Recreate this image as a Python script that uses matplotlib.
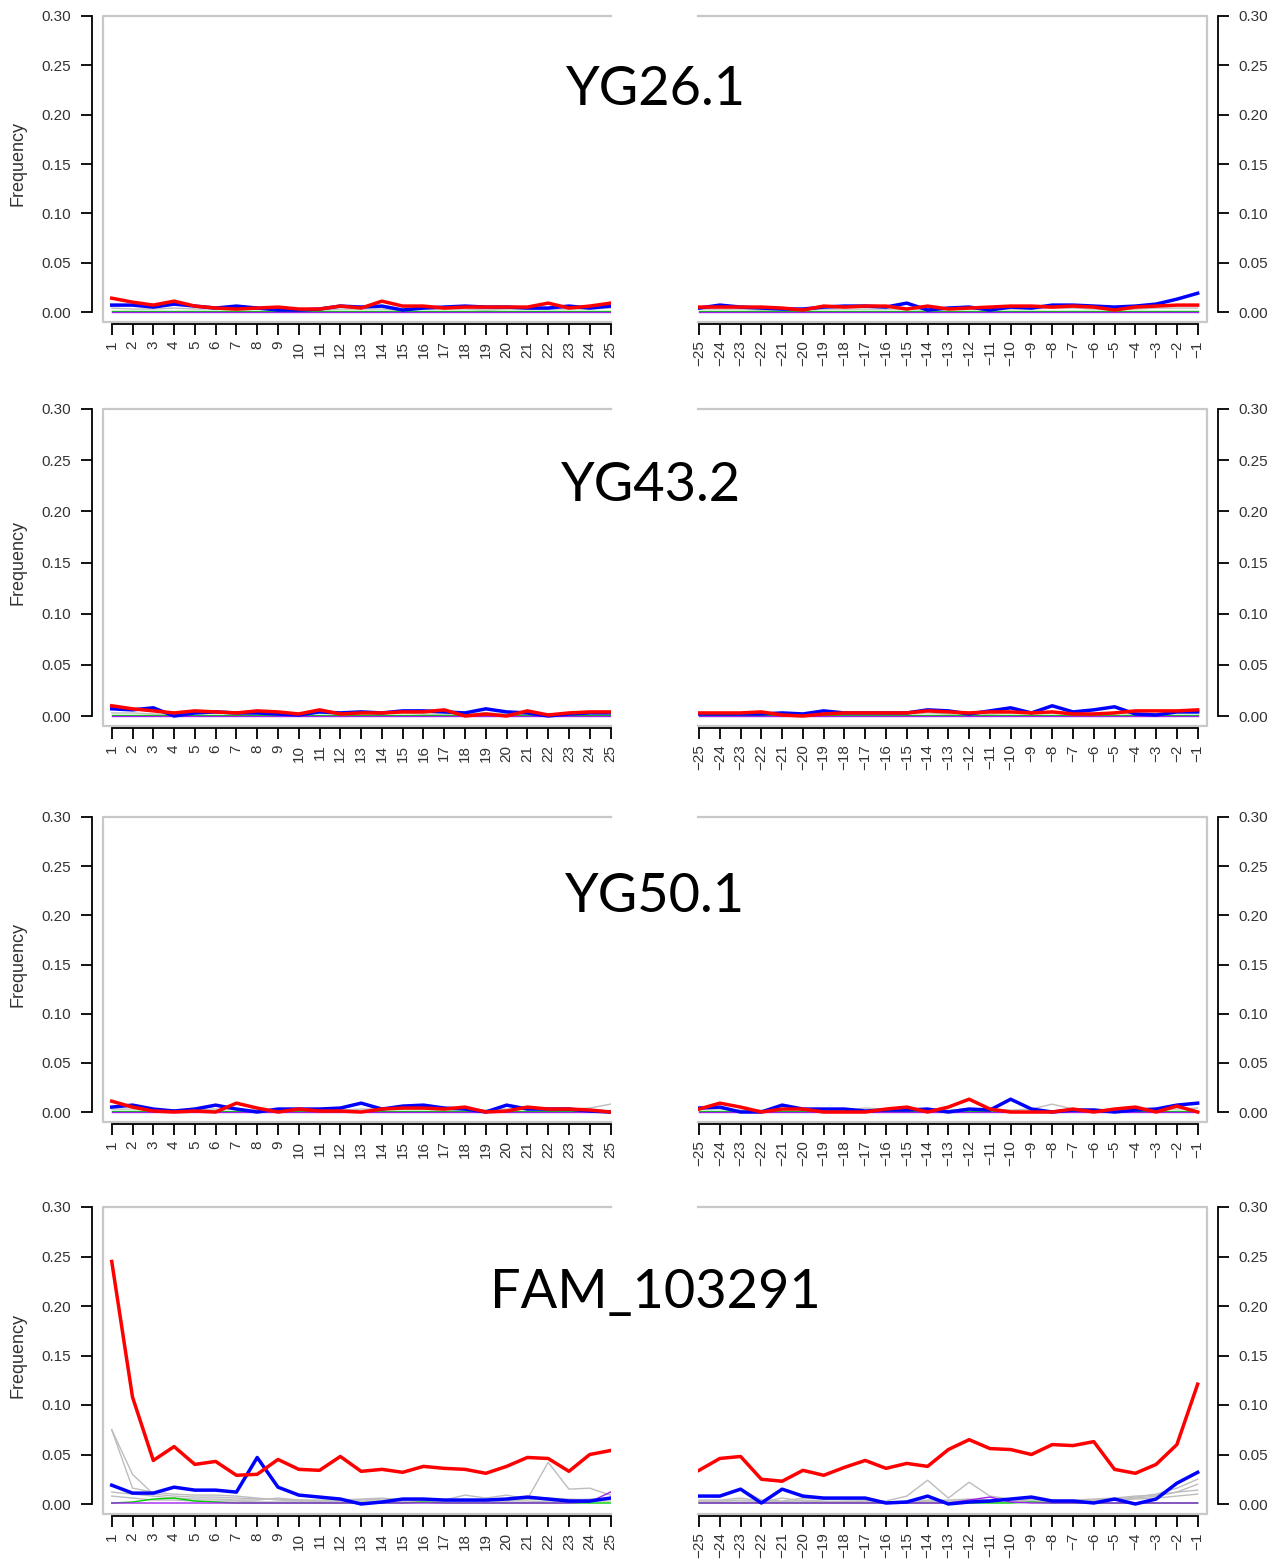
import matplotlib
matplotlib.use("Agg")
import matplotlib.pyplot as plt

# positions along the read, from the 5' end and from the 3' end
pos_left = list(range(1, 26))
pos_right = list(range(-25, 0))
tick_vals = [0.00, 0.05, 0.10, 0.15, 0.20, 0.25, 0.30]

names = ["YG26.1", "YG43.2", "YG50.1", "FAM_103291"]

# ---- YG26.1
yg26_l_red = [0.014, 0.010, 0.007, 0.011, 0.006, 0.004, 0.003, 0.004, 0.005, 0.003, 0.003, 0.006, 0.004,
              0.011, 0.006, 0.006, 0.004, 0.005, 0.005, 0.005, 0.005, 0.009, 0.004, 0.006, 0.009]
yg26_l_blue = [0.007, 0.007, 0.005, 0.008, 0.006, 0.004, 0.006, 0.004, 0.002, 0.002, 0.003, 0.006, 0.005,
               0.006, 0.002, 0.004, 0.005, 0.006, 0.005, 0.005, 0.004, 0.004, 0.006, 0.004, 0.006]
yg26_l_gray = [0.004, 0.003, 0.003, 0.004, 0.003, 0.003, 0.002, 0.003, 0.003, 0.002, 0.002, 0.003, 0.003,
               0.003, 0.002, 0.003, 0.003, 0.003, 0.002, 0.003, 0.003, 0.003, 0.003, 0.003, 0.004]
yg26_r_red = [0.005, 0.005, 0.005, 0.005, 0.004, 0.002, 0.006, 0.005, 0.006, 0.006, 0.003, 0.006, 0.003,
              0.004, 0.005, 0.006, 0.006, 0.005, 0.006, 0.005, 0.002, 0.005, 0.006, 0.007, 0.007]
yg26_r_blue = [0.004, 0.007, 0.005, 0.004, 0.003, 0.003, 0.005, 0.006, 0.006, 0.005, 0.009, 0.002, 0.004,
               0.005, 0.002, 0.005, 0.004, 0.007, 0.007, 0.006, 0.005, 0.006, 0.008, 0.013, 0.019]
yg26_r_gray = [0.003, 0.003, 0.003, 0.002, 0.002, 0.002, 0.003, 0.003, 0.003, 0.003, 0.003, 0.002, 0.003,
               0.003, 0.003, 0.003, 0.003, 0.004, 0.004, 0.003, 0.003, 0.003, 0.004, 0.004, 0.004]

# ---- YG43.2
yg43_l_red = [0.010, 0.007, 0.005, 0.003, 0.005, 0.004, 0.003, 0.005, 0.004, 0.002, 0.006, 0.002, 0.003,
              0.003, 0.004, 0.004, 0.006, 0.000, 0.002, 0.000, 0.005, 0.001, 0.003, 0.004, 0.004]
yg43_l_blue = [0.007, 0.006, 0.008, 0.000, 0.003, 0.004, 0.003, 0.003, 0.002, 0.001, 0.004, 0.003, 0.004,
               0.003, 0.005, 0.005, 0.004, 0.003, 0.007, 0.004, 0.003, 0.000, 0.002, 0.003, 0.003]
yg43_l_gray = [0.003, 0.003, 0.002, 0.002, 0.002, 0.003, 0.002, 0.002, 0.002, 0.002, 0.003, 0.002, 0.002,
               0.002, 0.003, 0.002, 0.002, 0.002, 0.003, 0.002, 0.002, 0.002, 0.002, 0.003, 0.003]
yg43_r_red = [0.003, 0.003, 0.003, 0.004, 0.001, 0.000, 0.002, 0.003, 0.003, 0.003, 0.003, 0.005, 0.004,
              0.003, 0.004, 0.004, 0.003, 0.004, 0.002, 0.002, 0.003, 0.005, 0.005, 0.005, 0.006]
yg43_r_blue = [0.002, 0.002, 0.002, 0.002, 0.003, 0.002, 0.005, 0.003, 0.003, 0.003, 0.003, 0.006, 0.005,
               0.002, 0.005, 0.008, 0.003, 0.010, 0.004, 0.006, 0.009, 0.002, 0.001, 0.004, 0.004]
yg43_r_gray = [0.002, 0.002, 0.002, 0.002, 0.002, 0.002, 0.002, 0.002, 0.003, 0.002, 0.002, 0.003, 0.002,
               0.002, 0.002, 0.003, 0.002, 0.003, 0.002, 0.002, 0.003, 0.002, 0.002, 0.003, 0.003]

# ---- YG50.1
yg50_l_red = [0.011, 0.005, 0.001, 0.000, 0.001, 0.000, 0.009, 0.004, 0.000, 0.003, 0.001, 0.001, 0.000,
              0.003, 0.004, 0.004, 0.003, 0.005, 0.000, 0.001, 0.005, 0.003, 0.003, 0.002, 0.000]
yg50_l_blue = [0.005, 0.007, 0.003, 0.001, 0.003, 0.007, 0.003, 0.000, 0.003, 0.003, 0.003, 0.004, 0.009,
               0.003, 0.006, 0.007, 0.004, 0.003, 0.000, 0.007, 0.003, 0.003, 0.003, 0.001, 0.000]
yg50_l_gray = [0.003, 0.003, 0.002, 0.002, 0.002, 0.003, 0.003, 0.002, 0.002, 0.003, 0.002, 0.002, 0.003,
               0.003, 0.003, 0.003, 0.002, 0.003, 0.002, 0.003, 0.003, 0.002, 0.003, 0.004, 0.008]
yg50_r_red = [0.003, 0.009, 0.005, 0.000, 0.003, 0.003, 0.000, 0.000, 0.000, 0.003, 0.005, 0.000, 0.005,
              0.013, 0.003, 0.000, 0.000, 0.000, 0.003, 0.000, 0.003, 0.005, 0.000, 0.006, 0.000]
yg50_r_blue = [0.004, 0.005, 0.000, 0.000, 0.007, 0.003, 0.003, 0.003, 0.001, 0.002, 0.002, 0.003, 0.000,
               0.003, 0.002, 0.013, 0.003, 0.000, 0.002, 0.002, 0.000, 0.002, 0.003, 0.007, 0.009]
yg50_r_gray = [0.003, 0.003, 0.002, 0.002, 0.003, 0.003, 0.003, 0.002, 0.004, 0.003, 0.003, 0.003, 0.002,
               0.003, 0.003, 0.002, 0.003, 0.008, 0.003, 0.003, 0.002, 0.003, 0.003, 0.003, 0.004]

# ---- FAM_103291
fam_l_red = [0.245, 0.108, 0.044, 0.058, 0.040, 0.043, 0.029, 0.030, 0.045, 0.035, 0.034, 0.048, 0.033,
             0.035, 0.032, 0.038, 0.036, 0.035, 0.031, 0.038, 0.047, 0.046, 0.033, 0.050, 0.054]
fam_l_blue = [0.019, 0.011, 0.011, 0.017, 0.014, 0.014, 0.012, 0.047, 0.017, 0.009, 0.007, 0.005, 0.000,
              0.002, 0.005, 0.005, 0.004, 0.004, 0.004, 0.005, 0.007, 0.005, 0.003, 0.003, 0.006]
fam_l_gray1 = [0.075, 0.030, 0.010, 0.008, 0.007, 0.007, 0.006, 0.005, 0.005, 0.004, 0.004, 0.004, 0.004,
               0.005, 0.005, 0.004, 0.004, 0.003, 0.004, 0.004, 0.004, 0.005, 0.004, 0.005, 0.006]
fam_l_gray2 = [0.075, 0.016, 0.012, 0.010, 0.009, 0.009, 0.008, 0.006, 0.004, 0.003, 0.003, 0.004, 0.005,
               0.006, 0.004, 0.004, 0.004, 0.009, 0.006, 0.009, 0.005, 0.006, 0.005, 0.004, 0.005]
fam_l_gray3 = [0.012, 0.010, 0.008, 0.006, 0.005, 0.005, 0.004, 0.004, 0.006, 0.004, 0.003, 0.003, 0.003,
               0.003, 0.003, 0.003, 0.003, 0.003, 0.003, 0.003, 0.005, 0.042, 0.015, 0.016, 0.009]
fam_l_gray4 = [0.008, 0.006, 0.004, 0.004, 0.003, 0.003, 0.003, 0.002, 0.002, 0.002, 0.002, 0.002, 0.002,
               0.002, 0.002, 0.002, 0.002, 0.002, 0.002, 0.002, 0.002, 0.003, 0.002, 0.003, 0.003]
fam_l_green = [0.001, 0.002, 0.005, 0.006, 0.003, 0.002, 0.001, 0.001, 0.001, 0.001, 0.001, 0.001, 0.001,
               0.001, 0.001, 0.002, 0.001, 0.001, 0.001, 0.001, 0.001, 0.001, 0.001, 0.001, 0.001]
fam_l_purple = [0.001, 0.001, 0.001, 0.001, 0.001, 0.001, 0.001, 0.001, 0.001, 0.001, 0.001, 0.001, 0.001,
                0.001, 0.001, 0.001, 0.001, 0.001, 0.001, 0.001, 0.001, 0.001, 0.001, 0.002, 0.012]
fam_r_red = [0.034, 0.046, 0.048, 0.025, 0.023, 0.034, 0.029, 0.037, 0.044, 0.036, 0.041, 0.038, 0.055,
             0.065, 0.056, 0.055, 0.050, 0.060, 0.059, 0.063, 0.035, 0.031, 0.040, 0.060, 0.121]
fam_r_blue = [0.008, 0.008, 0.015, 0.001, 0.015, 0.008, 0.006, 0.006, 0.006, 0.001, 0.002, 0.008, 0.000,
              0.002, 0.003, 0.005, 0.007, 0.003, 0.003, 0.001, 0.005, 0.000, 0.005, 0.021, 0.032]
fam_r_gray1 = [0.008, 0.007, 0.015, 0.004, 0.003, 0.006, 0.005, 0.004, 0.004, 0.003, 0.008, 0.024, 0.006,
               0.022, 0.008, 0.005, 0.005, 0.004, 0.004, 0.005, 0.006, 0.008, 0.009, 0.012, 0.014]
fam_r_gray2 = [0.004, 0.004, 0.006, 0.003, 0.002, 0.004, 0.003, 0.002, 0.003, 0.002, 0.003, 0.004, 0.004,
               0.005, 0.004, 0.003, 0.004, 0.004, 0.003, 0.004, 0.005, 0.007, 0.010, 0.016, 0.025]
fam_r_gray3 = [0.003, 0.003, 0.004, 0.002, 0.006, 0.003, 0.002, 0.002, 0.002, 0.002, 0.002, 0.003, 0.003,
               0.003, 0.002, 0.003, 0.003, 0.003, 0.004, 0.003, 0.004, 0.006, 0.008, 0.012, 0.020]
fam_r_gray4 = [0.002, 0.002, 0.002, 0.002, 0.002, 0.002, 0.002, 0.002, 0.002, 0.002, 0.002, 0.002, 0.002,
               0.002, 0.002, 0.002, 0.002, 0.003, 0.002, 0.003, 0.004, 0.005, 0.006, 0.008, 0.010]
fam_r_green = [0.001, 0.001, 0.001, 0.001, 0.001, 0.001, 0.001, 0.001, 0.001, 0.001, 0.001, 0.001, 0.001,
               0.001, 0.001, 0.001, 0.002, 0.001, 0.001, 0.001, 0.001, 0.001, 0.001, 0.001, 0.001]
fam_r_purple = [0.001, 0.001, 0.001, 0.001, 0.001, 0.001, 0.001, 0.001, 0.001, 0.001, 0.001, 0.001, 0.001,
                0.004, 0.007, 0.002, 0.001, 0.001, 0.001, 0.001, 0.001, 0.001, 0.001, 0.001, 0.001]

low_green = [0.001, 0.001, 0.001, 0.001, 0.001, 0.001, 0.001, 0.001, 0.001, 0.001, 0.001, 0.001, 0.001,
             0.001, 0.001, 0.001, 0.001, 0.001, 0.001, 0.001, 0.001, 0.001, 0.001, 0.001, 0.001]
zero_purple = [0.000, 0.000, 0.000, 0.000, 0.000, 0.000, 0.000, 0.000, 0.000, 0.000, 0.000, 0.000, 0.000,
               0.000, 0.000, 0.000, 0.000, 0.000, 0.000, 0.000, 0.000, 0.000, 0.000, 0.000, 0.000]

rows = [
    dict(l_red=yg26_l_red, l_blue=yg26_l_blue, l_gray=[yg26_l_gray], l_green=low_green, l_purple=zero_purple,
         r_red=yg26_r_red, r_blue=yg26_r_blue, r_gray=[yg26_r_gray], r_green=low_green, r_purple=zero_purple),
    dict(l_red=yg43_l_red, l_blue=yg43_l_blue, l_gray=[yg43_l_gray], l_green=low_green, l_purple=zero_purple,
         r_red=yg43_r_red, r_blue=yg43_r_blue, r_gray=[yg43_r_gray], r_green=low_green, r_purple=zero_purple),
    dict(l_red=yg50_l_red, l_blue=yg50_l_blue, l_gray=[yg50_l_gray], l_green=low_green, l_purple=zero_purple,
         r_red=yg50_r_red, r_blue=yg50_r_blue, r_gray=[yg50_r_gray], r_green=low_green, r_purple=zero_purple),
    dict(l_red=fam_l_red, l_blue=fam_l_blue, l_gray=[fam_l_gray1, fam_l_gray2, fam_l_gray3, fam_l_gray4],
         l_green=fam_l_green, l_purple=fam_l_purple,
         r_red=fam_r_red, r_blue=fam_r_blue, r_gray=[fam_r_gray1, fam_r_gray2, fam_r_gray3, fam_r_gray4],
         r_green=fam_r_green, r_purple=fam_r_purple),
]

# layout in pixels: (y of 0.30, y of 0.00, y of box bottom, title centre x, title baseline)
row_px = [(16, 312, 322, 656, 105), (409, 716, 726, 651, 501),
          (817, 1112, 1122, 655, 912), (1207, 1504, 1514, 655, 1308)]

W, H = 1284, 1568
fig = plt.figure(figsize=(W / 100, H / 100), dpi=100)
plt.rcParams['font.family'] = ['Liberation Sans', 'DejaVu Sans']

BOX = '#c8c8c8'
TXT = '#333333'
PX = 72 / 100.0


def style(ax, side, ylo):
    ax.set_ylim(ylo, 0.30)
    for s in ax.spines.values():
        s.set_visible(False)
    ax.spines['bottom'].set_visible(True)
    ax.spines['bottom'].set_position(('outward', 2 * PX))
    ax.spines['bottom'].set_linewidth(1.3)
    ax.spines[side].set_visible(True)
    ax.spines[side].set_position(('outward', 11 * PX))
    ax.spines[side].set_bounds(0, 0.30)
    ax.spines[side].set_linewidth(1.3)
    ax.set_yticks(tick_vals)
    ax.set_yticklabels(["%.2f" % v for v in tick_vals])
    if side == 'right':
        ax.yaxis.tick_right()
        xs, ys = [0, 1, 1, 0], [1, 1, 0, 0]
    else:
        xs, ys = [1, 0, 0, 1], [1, 1, 0, 0]
    ax.plot(xs, ys, transform=ax.transAxes, color=BOX, lw=1.6, clip_on=False, zorder=0)
    ax.tick_params(axis='both', length=11 * PX, width=1.3, colors='black', labelcolor=TXT)
    ax.tick_params(axis='y', labelsize=11, pad=7)
    ax.tick_params(axis='x', labelsize=11, pad=4, labelrotation=90)


def draw(ax, x, red, blue, grays, green, purple):
    for g in grays:
        ax.plot(x, g, color='#bdbdbd', lw=1.0, zorder=1)
    ax.plot(x, green, color='#00cc00', lw=1.0, zorder=2)
    ax.plot(x, purple, color='#a020f0', lw=1.0, zorder=2)
    ax.plot(x, blue, color='#0000ff', lw=2.5, zorder=3)
    ax.plot(x, red, color='#ff0000', lw=2.5, zorder=4)


for name, d, (ytop, yzero, ybot, tx, tby) in zip(names, rows, row_px):
    ylo = -0.30 * (ybot - yzero) / (yzero - ytop)
    hfrac = (ybot - ytop) / H
    bottom = 1 - ybot / H

    axl = fig.add_axes([103 / W, bottom, (610.5 - 103) / W, hfrac])
    draw(axl, pos_left, d['l_red'], d['l_blue'], d['l_gray'], d['l_green'], d['l_purple'])
    axl.set_xlim(0.58, 25)
    style(axl, 'left', ylo)
    axl.spines['bottom'].set_bounds(1, 25)
    axl.set_xticks(pos_left)
    axl.set_xticklabels([str(p) for p in pos_left])

    axr = fig.add_axes([698 / W, bottom, (1207 - 698) / W, hfrac])
    draw(axr, pos_right, d['r_red'], d['r_blue'], d['r_gray'], d['r_green'], d['r_purple'])
    axr.set_xlim(-25.05, -0.55)
    style(axr, 'right', ylo)
    axr.spines['bottom'].set_bounds(-25, -1)
    axr.set_xticks(pos_right)
    axr.set_xticklabels(["\u2212%d" % abs(p) for p in pos_right])

    fig.text(18 / W, 1 - ((ytop + yzero) / 2) / H, "Frequency", rotation=90,
             ha='center', va='center', fontsize=13, color=TXT)
    fig.text(tx / W, 1 - tby / H, name, ha='center', va='baseline',
             fontsize=39, family=['Lato', 'DejaVu Sans'], color='black')

fig.savefig("out.png", dpi=100)
